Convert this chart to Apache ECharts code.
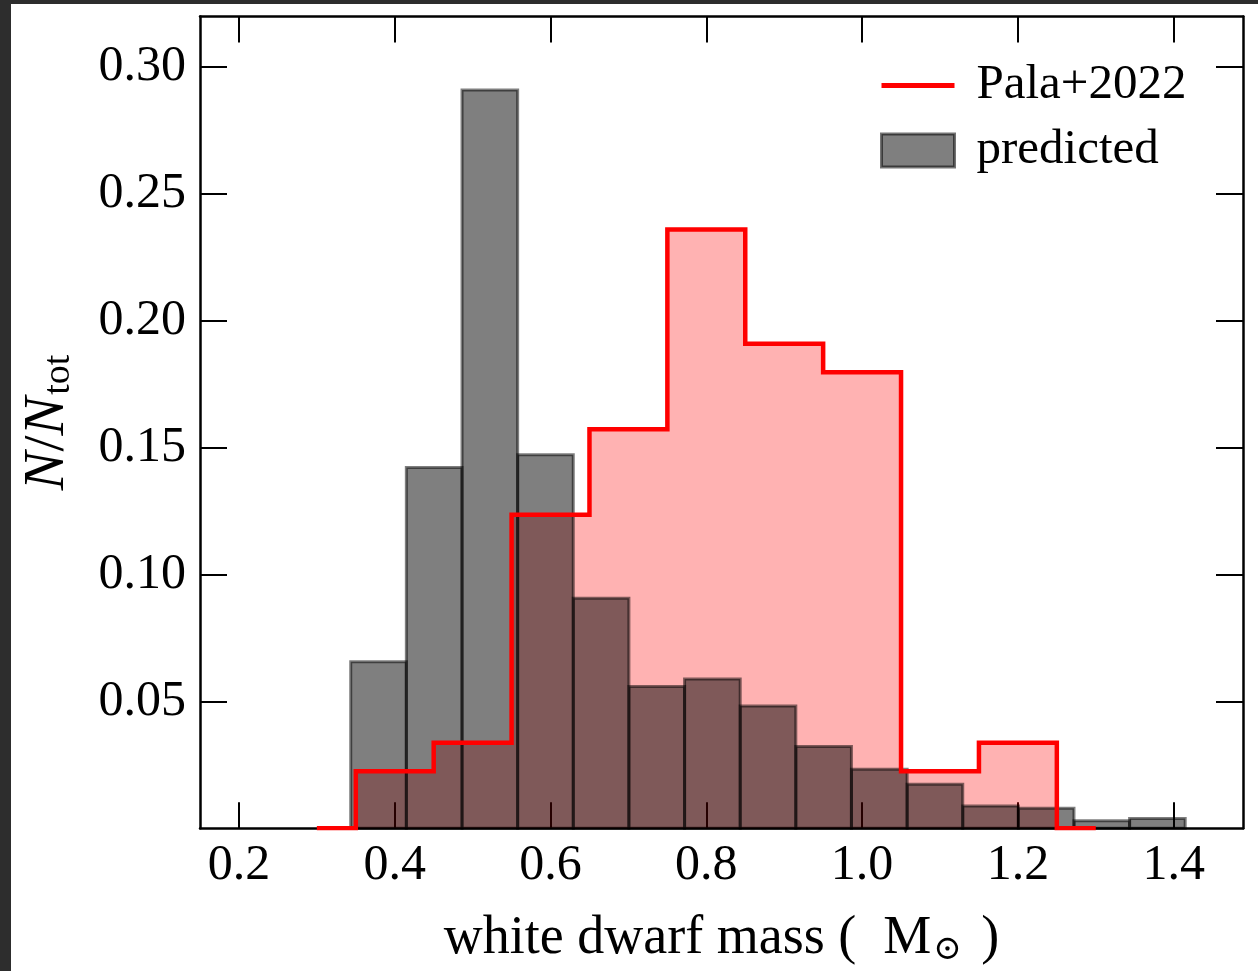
<!DOCTYPE html>
<html>
<head>
<meta charset="utf-8">
<script src="https://cdn.jsdelivr.net/npm/echarts@6/dist/echarts.min.js"></script>
<style>
html,body{margin:0;padding:0;background:#fff;}
#chart{width:1258px;height:971px;}
</style>
</head>
<body>
<div id="chart"></div>
<script>
// Predicted histogram: bin edges and normalized heights
const predictedEdges = [0.3435, 0.4149, 0.4864, 0.5578, 0.6292, 0.7006, 0.7721, 0.8435,
  0.9149, 0.9863, 1.0578, 1.1292, 1.2006, 1.2720, 1.3434, 1.4148];
const predictedValues = [0.0657, 0.1422, 0.2910, 0.1472, 0.0907, 0.0559, 0.0589, 0.0482,
  0.0322, 0.0233, 0.0174, 0.0088, 0.0079, 0.0030, 0.0039];

// Pala+2022 step histogram: edges and normalized heights (last value repeats for final edge)
const palaEdges = [0.30, 0.35, 0.45, 0.55, 0.65, 0.75, 0.85, 0.95, 1.05, 1.15, 1.25, 1.30];
const palaValues = [0, 0.0225, 0.0337, 0.1236, 0.1573, 0.2360, 0.1910, 0.1798, 0.0225, 0.0337, 0, 0];

const xTicks = [0.2, 0.4, 0.6, 0.8, 1.0, 1.2, 1.4];
const yTicks = [0.05, 0.10, 0.15, 0.20, 0.25, 0.30];

const predictedData = predictedValues.map((v, i) => [predictedEdges[i], predictedEdges[i + 1], v]);
const palaData = palaEdges.map((e, i) => [e, palaValues[i]]);

const FONT = '"Liberation Serif", "DejaVu Serif", serif';
const axisLine = {show: true, onZero: false, lineStyle: {color: '#000', width: 2.5}};
const tickStyle = {color: '#000', width: 2};

const chart = echarts.init(document.getElementById('chart'), null, {renderer: 'canvas'});
chart.setOption({
  backgroundColor: '#fff',
  animation: false,
  grid: {left: 200, top: 16.5, right: 15, bottom: 142.7, containLabel: false, outerBoundsMode: 'none'},
  xAxis: [{
    type: 'value', min: 0.15, max: 1.489, position: 'bottom',
    axisLine: axisLine,
    axisTick: {show: true, inside: true, length: 26, lineStyle: tickStyle, customValues: xTicks},
    axisLabel: {show: true, customValues: xTicks, margin: 13, color: '#000', fontSize: 50, fontFamily: FONT,
      formatter: v => v.toFixed(1)},
    splitLine: {show: false},
    name: '{t|white dwarf mass (  M}{s|⊙}{t| )}',
    nameLocation: 'middle', nameGap: 80,
    nameTextStyle: {
      rich: {
        t: {fontSize: 54, fontFamily: FONT, color: '#000', lineHeight: 62},
        s: {fontSize: 34, fontFamily: '"DejaVu Serif", serif', color: '#000', lineHeight: 62, padding: [22, 6, 0, 2]}
      }
    }
  }, {
    type: 'value', min: 0.15, max: 1.489, position: 'top',
    axisLine: axisLine,
    axisTick: {show: true, inside: true, length: 26, lineStyle: tickStyle, customValues: xTicks},
    axisLabel: {show: false},
    splitLine: {show: false}
  }],
  yAxis: [{
    type: 'value', min: 0, max: 0.32, position: 'left',
    axisLine: axisLine,
    axisTick: {show: true, inside: true, length: 27, lineStyle: tickStyle, customValues: yTicks},
    axisLabel: {show: true, customValues: yTicks, margin: 14, color: '#000', fontSize: 50, fontFamily: FONT,
      formatter: v => v.toFixed(2)},
    splitLine: {show: false},
    name: '{i|N}{t|/}{i|N}{s|tot}',
    nameLocation: 'middle', nameRotate: 90, nameGap: 120,
    nameTextStyle: {
      rich: {
        i: {fontSize: 58, fontFamily: FONT, fontStyle: 'italic', color: '#000', lineHeight: 64},
        t: {fontSize: 58, fontFamily: FONT, color: '#000', lineHeight: 64},
        s: {fontSize: 38, fontFamily: FONT, color: '#000', lineHeight: 64, padding: [22, 0, 0, 2]}
      }
    }
  }, {
    type: 'value', min: 0, max: 0.32, position: 'right',
    axisLine: axisLine,
    axisTick: {show: true, inside: true, length: 27, lineStyle: tickStyle, customValues: yTicks},
    axisLabel: {show: false},
    splitLine: {show: false}
  }],
  legend: {
    orient: 'vertical', left: 880, top: 61, padding: 0,
    itemWidth: 73, itemHeight: 33, itemGap: 16,
    textStyle: {fontSize: 49, fontFamily: FONT, color: '#000', lineHeight: 33, padding: [0, 0, 0, 17]},
    data: [
      {name: 'Pala+2022', icon: 'path://M0,0 L100,0 L100,7 L0,7 Z', itemStyle: {color: '#ff0000', borderWidth: 0}},
      {name: 'predicted', icon: 'rect', itemStyle: {color: 'rgba(0,0,0,0.5)', borderColor: 'rgba(0,0,0,0.55)', borderWidth: 3}}
    ]
  },
  graphic: [
    {type: 'rect', left: 0, top: 0, shape: {width: 11, height: 971}, style: {fill: '#2d2d2d'}, z: 100},
    {type: 'rect', left: 0, top: 0, shape: {width: 1258, height: 4}, style: {fill: '#2d2d2d'}, z: 100}
  ],
  series: [
    {
      name: 'Pala fill', type: 'line', step: 'end', data: palaData,
      showSymbol: false, symbol: 'none',
      lineStyle: {width: 0, opacity: 0},
      areaStyle: {color: 'rgba(255,0,0,0.3)', opacity: 1},
      z: 1, silent: true
    },
    {
      name: 'predicted', type: 'custom', data: predictedData,
      itemStyle: {color: 'rgba(0,0,0,0.5)', borderColor: 'rgba(0,0,0,0.5)', borderWidth: 3},
      encode: {x: [0, 1], y: 2},
      renderItem: function (params, api) {
        const p0 = api.coord([api.value(0), 0]);
        const p1 = api.coord([api.value(1), api.value(2)]);
        return {
          type: 'rect',
          shape: {x: p0[0], y: p1[1], width: p1[0] - p0[0], height: p0[1] - p1[1]},
          style: {fill: 'rgba(0,0,0,0.5)', stroke: 'rgba(0,0,0,0.5)', lineWidth: 3}
        };
      },
      z: 2
    },
    {
      name: 'Pala+2022', type: 'line', step: 'end', data: palaData,
      showSymbol: false, symbol: 'none', color: '#ff0000',
      lineStyle: {color: '#ff0000', width: 4.5, join: 'miter', cap: 'butt'},
      itemStyle: {color: '#ff0000'},
      z: 3
    }
  ]
});
</script>
</body>
</html>
